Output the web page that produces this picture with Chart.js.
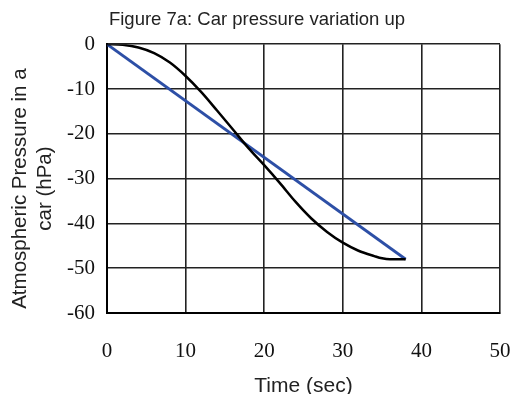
<!DOCTYPE html>
<html>
<head>
<meta charset="utf-8">
<script src="https://cdn.jsdelivr.net/npm/chart.js@4/dist/chart.umd.min.js"></script>
<style>
  html, body { margin: 0; padding: 0; background: #fff; }
  #wrap { width: 514px; height: 394px; }
</style>
</head>
<body>
<div id="wrap"><canvas id="c" width="514" height="394"></canvas></div>
<script>
const chartTitle = "Figure 7a: Car pressure variation up";
const xTitle = "Time (sec)";
const yTitleLines = ["Atmospheric Pressure in a", "car (hPa)"];

const measuredTime = [0, 2, 4, 6, 8, 10, 12, 14, 16, 18, 20, 22, 24, 26, 28, 30, 32, 34, 35, 36, 38];
const measuredPressure = [0, -0.15, -0.75, -2.0, -4.1, -7.1, -10.7, -14.8, -19.0, -23.2, -27.0, -31.0, -35.2, -38.9, -41.9, -44.3, -46.1, -47.3, -47.8, -48.0, -48.0];
const linearTime = [0, 38];
const linearPressure = [0, -48];

const xTicks = [0, 10, 20, 30, 40, 50];
const yTicks = [0, -10, -20, -30, -40, -50, -60];

const toPoints = (xs, ys) => xs.map((x, i) => ({ x: x, y: ys[i] }));

const yTitlePlugin = {
  id: 'yTitle',
  afterDraw(chart) {
    const ctx = chart.ctx;
    const area = chart.chartArea;
    ctx.save();
    ctx.fillStyle = '#222';
    ctx.font = '20.5px "Liberation Sans", Arial, sans-serif';
    ctx.textAlign = 'center';
    ctx.textBaseline = 'middle';
    ctx.translate(0, (area.top + area.bottom) / 2 + 10);
    ctx.rotate(-Math.PI / 2);
    ctx.fillText(yTitleLines[0], 0, 20);
    ctx.fillText(yTitleLines[1], 0, 45);
    ctx.restore();
  }
};

new Chart(document.getElementById('c'), {
  type: 'scatter',
  data: {
    datasets: [
      {
        label: 'Measured',
        data: toPoints(measuredTime, measuredPressure),
        showLine: true,
        borderColor: '#000000',
        borderWidth: 2.5,
        pointRadius: 0,
        cubicInterpolationMode: 'monotone',
        fill: false
      },
      {
        label: 'Linear',
        data: toPoints(linearTime, linearPressure),
        showLine: true,
        borderColor: '#2d4fa6',
        borderWidth: 2.8,
        pointRadius: 0,
        fill: false
      }
    ]
  },
  options: {
    responsive: false,
    animation: false,
    layout: { padding: 0 },
    plugins: {
      legend: { display: false },
      tooltip: { enabled: false },
      title: {
        display: true,
        text: chartTitle,
        color: '#222',
        font: { family: '"Liberation Sans", Arial, sans-serif', size: 18.5, weight: 'normal', lineHeight: 1.2 },
        padding: { top: 9, bottom: 13 }
      }
    },
    scales: {
      x: {
        type: 'linear',
        min: 0,
        max: 50,
        afterBuildTicks(scale) { scale.ticks = xTicks.map(v => ({ value: v })); },
        afterFit(scale) { scale.height = 81; scale.paddingRight = 14; scale.paddingLeft = 0; },
        ticks: {
          color: '#111',
          font: { family: '"Liberation Serif", "Times New Roman", serif', size: 21, lineHeight: 1.2 },
          padding: 26,
          maxRotation: 0
        },
        grid: { color: '#222', lineWidth: 1.6, drawTicks: false },
        border: { color: '#000', width: 2 },
        title: {
          display: true,
          text: xTitle,
          color: '#222',
          font: { family: '"Liberation Sans", Arial, sans-serif', size: 21, lineHeight: 1 },
          padding: { top: 0, bottom: -3 }
        }
      },
      y: {
        type: 'linear',
        min: -60,
        max: 0,
        afterBuildTicks(scale) { scale.ticks = yTicks.map(v => ({ value: v })); },
        afterFit(scale) { scale.width = 107; },
        ticks: {
          color: '#111',
          font: { family: '"Liberation Serif", "Times New Roman", serif', size: 21, lineHeight: 1.2 },
          padding: 12
        },
        grid: { color: '#222', lineWidth: 1.6, drawTicks: false },
        border: { color: '#000', width: 2 }
      }
    }
  },
  plugins: [yTitlePlugin]
});
</script>
</body>
</html>
